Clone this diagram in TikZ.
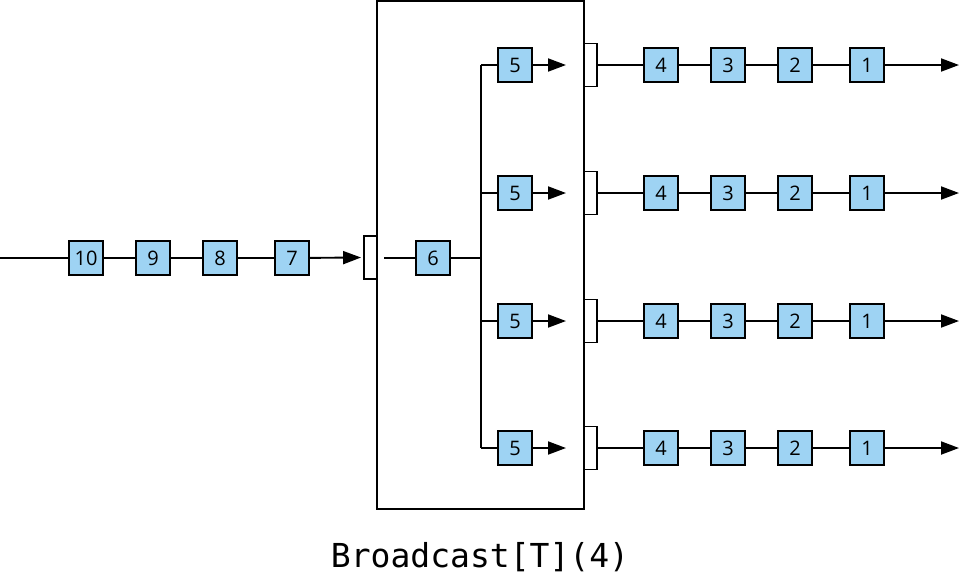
\documentclass[tikz,border=0pt]{standalone}
\usepackage{fontspec}
\setmainfont{Open Sans}
\newfontfamily\capfont{DejaVu Sans Mono}
\usetikzlibrary{arrows.meta}
\definecolor{boxblue}{RGB}{158,211,243}
\tikzset{
  elem/.style={draw=black, fill=boxblue, line width=1.9pt, minimum width=34pt, minimum height=34pt, inner sep=0pt, font=\fontsize{20}{20}\selectfont},
  port/.style={draw=black, fill=white, line width=1.9pt, minimum width=13pt, minimum height=43pt, inner sep=0pt},
  wire/.style={line width=1.9pt},
  arr/.style={wire, -{Triangle[length=18pt,width=13pt]}},
}
\begin{document}
\begin{tikzpicture}[x=1pt,y=-1pt]
\useasboundingbox (0,0) rectangle (960,574);
% main stage box
\node[draw=black, line width=1.9pt, minimum width=207pt, minimum height=508pt, inner sep=0pt] (stage) at (480.5,255) {};
% input
\coordinate (in) at (0,258);
\node[elem] (e10) at (86,258) {10};
\node[elem] (e9) at (153,258) {9};
\node[elem] (e8) at (220,258) {8};
\node[elem] (e7) at (292,258) {7};
\node[port] (pin) at (370.5,257.5) {};
\draw[wire] (in) -- (e10) -- (e9) -- (e8) -- (e7);
\draw[arr] (e7) -- ([xshift=-2pt]pin.west);
\node[elem] (e6) at (433,258) {6};
\coordinate (pinx) at (384,258);
\draw[wire] (pinx) -- (e6);
\coordinate (split) at (481,258);
\draw[wire] (e6) -- (split);
\coordinate (vtop) at (481,65);
\coordinate (vbot) at (481,448);
\draw[wire] (vtop) -- (vbot);
% four outputs
\foreach \i/\y in {1/65,2/193,3/321,4/448}{
  \coordinate (b\i) at (481,\y);
  \node[elem] (f\i) at (515,\y) {5};
  \coordinate (t\i) at (566,\y);
  \draw[wire] (b\i) -- (f\i);
  \draw[arr] (f\i) -- (t\i);
  \node[port] (p\i) at (590.5,\y) {};
  \node[elem] (a\i) at (661,\y) {4};
  \node[elem] (c\i) at (728,\y) {3};
  \node[elem] (d\i) at (795,\y) {2};
  \node[elem] (g\i) at (867,\y) {1};
  \coordinate (o\i) at (959,\y);
  \draw[wire] (p\i.east) -- (a\i) -- (c\i) -- (d\i) -- (g\i);
  \draw[arr] (g\i) -- (o\i);
}
\node[font=\capfont\fontsize{33}{34}\selectfont] (cap) at (480,557) {Broadcast[T](4)};
\end{tikzpicture}
\end{document}
